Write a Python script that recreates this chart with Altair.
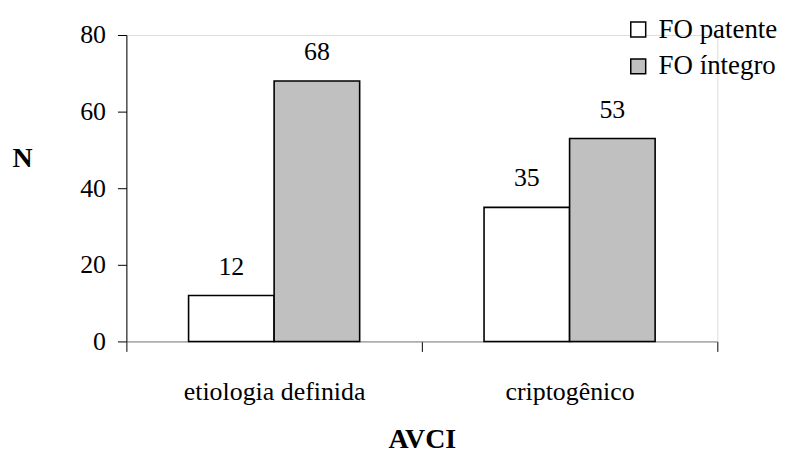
import altair as alt
import pandas as pd

categories = ["etiologia definida", "criptogênico"]
series = ["FO patente", "FO íntegro"]
fo_patente = [12, 35]
fo_integro = [68, 53]
colors = ["#ffffff", "#c0c0c0"]

rows = []
for i, c in enumerate(categories):
    rows.append({"AVCI": c, "grupo": series[0], "N": fo_patente[i]})
    rows.append({"AVCI": c, "grupo": series[1], "N": fo_integro[i]})
df = pd.DataFrame(rows)

FONT = "Liberation Serif"

x = alt.X("AVCI:N", sort=categories,
          scale=alt.Scale(paddingInner=0, paddingOuter=0),
          axis=alt.Axis(title="AVCI", labelAngle=0, tickBand="extent",
                        tickSize=10, tickColor="#000000", tickWidth=1,
                        domainColor="#808080", domainWidth=1, labelLimit=400,
                        labelFont=FONT, labelFontSize=26, labelColor="#000000",
                        labelPadding=27, titleFont=FONT, titleFontSize=28,
                        titleFontWeight="bold", titleColor="#000000",
                        titlePadding=22))
xoff = alt.XOffset("grupo:N", sort=series,
                   scale=alt.Scale(paddingInner=0, paddingOuter=0.727))
y = alt.Y("N:Q", scale=alt.Scale(domain=[0, 80], nice=False),
          axis=alt.Axis(title="N", values=[0, 20, 40, 60, 80], grid=False,
                        tickSize=9, tickColor="#000000", domainColor="#000000",
                        labelFont=FONT, labelFontSize=26, labelColor="#000000",
                        labelPadding=12, titleFont=FONT, titleFontSize=28,
                        titleFontWeight="bold", titleColor="#000000",
                        titleAngle=0, titleX=-105, titleY=124,
                        titleAlign="center", titleBaseline="middle"))

bars = alt.Chart(df).mark_bar(stroke="#000000", strokeWidth=1.6).encode(
    x=x, xOffset=xoff, y=y,
    fill=alt.Fill("grupo:N", sort=series,
                  scale=alt.Scale(domain=series, range=colors),
                  legend=alt.Legend(title=None, orient="none", legendX=501,
                                    legendY=-19, symbolType="square",
                                    symbolSize=225, symbolStrokeColor="#000000",
                                    symbolStrokeWidth=1.5, labelFont=FONT,
                                    labelFontSize=27, labelColor="#000000",
                                    labelLimit=300,
                                    labelOffset=7, rowPadding=9, padding=0))
)

labels = alt.Chart(df).mark_text(font=FONT, fontSize=26, color="#000000",
                                 baseline="middle", dy=-29).encode(
    x=alt.X("AVCI:N", sort=categories), xOffset=alt.XOffset("grupo:N", sort=series),
    y="N:Q", text="N:Q")

chart = (bars + labels).properties(
    width=594, height=308,
    autosize=alt.AutoSizeParams(type="none"),
    padding={"left": 119, "top": 26, "right": 62, "bottom": 111},
).configure_view(stroke=None).configure(background="#ffffff")

chart.save("out.html", embed_options={"renderer": "svg", "actions": False})
